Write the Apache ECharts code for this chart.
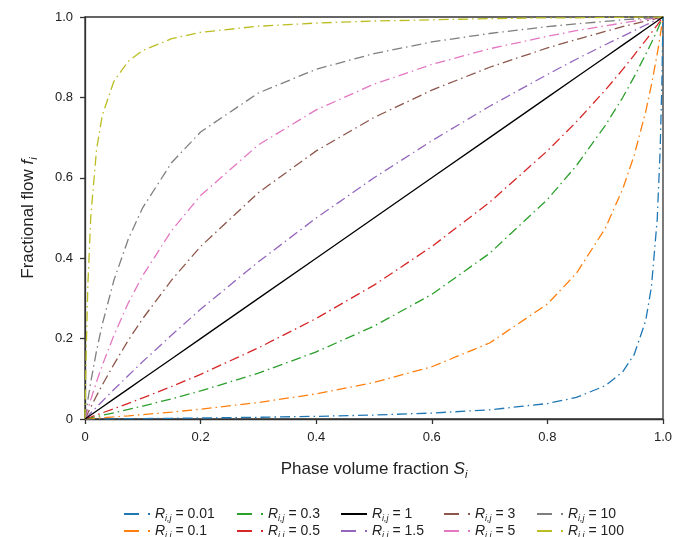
<!DOCTYPE html>
<html>
<head>
<meta charset="utf-8">
<script src="https://cdn.jsdelivr.net/npm/echarts@6/dist/echarts.min.js"></script>
<style>
  html, body { margin: 0; padding: 0; background: #fff; }
  #main { width: 686px; height: 537px; }
</style>
</head>
<body>
<div id="main"></div>
<script>
// phase volume fraction S (x)
var sValues = [0, 0.002, 0.005, 0.01, 0.02, 0.03, 0.05, 0.075, 0.1, 0.15, 0.2, 0.3, 0.4, 0.5,
    0.6, 0.7, 0.8, 0.85, 0.9, 0.93, 0.95, 0.97, 0.98, 0.99, 0.995, 0.998, 1];

// fractional flow f
var f001 = [0, 0.00002, 0.00005, 0.0001, 0.0002, 0.0003, 0.0005, 0.0008, 0.0011, 0.0018, 0.0025, 0.0043, 0.0066, 0.0099,
    0.0148, 0.0228, 0.0385, 0.0536, 0.0826, 0.117, 0.160, 0.244, 0.329, 0.497, 0.666, 0.833, 1];
var f01 = [0, 0.0002, 0.0005, 0.001, 0.002, 0.0031, 0.0052, 0.008, 0.011, 0.0173, 0.0244, 0.0411, 0.0625, 0.0909,
    0.130, 0.189, 0.286, 0.362, 0.474, 0.571, 0.655, 0.764, 0.831, 0.908, 0.952, 0.980, 1];
var f03 = [0, 0.0006, 0.0015, 0.003, 0.0061, 0.0092, 0.0155, 0.0238, 0.0323, 0.0503, 0.0698, 0.114, 0.167, 0.231,
    0.310, 0.412, 0.546, 0.630, 0.730, 0.799, 0.851, 0.907, 0.936, 0.967, 0.984, 0.993, 1];
var f05 = [0, 0.001, 0.0025, 0.005, 0.0101, 0.0152, 0.0256, 0.039, 0.0526, 0.0811, 0.111, 0.177, 0.25, 0.333,
    0.429, 0.539, 0.667, 0.739, 0.818, 0.869, 0.905, 0.942, 0.961, 0.980, 0.990, 0.996, 1];
var f1 = [0, 0.002, 0.005, 0.01, 0.02, 0.03, 0.05, 0.075, 0.1, 0.15, 0.2, 0.3, 0.4, 0.5,
    0.6, 0.7, 0.8, 0.85, 0.9, 0.93, 0.95, 0.97, 0.98, 0.99, 0.995, 0.998, 1];
var f15 = [0, 0.003, 0.0075, 0.0149, 0.0297, 0.0443, 0.0732, 0.108, 0.143, 0.209, 0.273, 0.391, 0.5, 0.6,
    0.692, 0.778, 0.857, 0.895, 0.931, 0.952, 0.966, 0.980, 0.987, 0.993, 0.997, 0.999, 1];
var f3 = [0, 0.006, 0.0149, 0.0294, 0.0577, 0.0849, 0.136, 0.196, 0.25, 0.346, 0.429, 0.563, 0.667, 0.75,
    0.818, 0.875, 0.923, 0.944, 0.964, 0.976, 0.983, 0.990, 0.993, 0.997, 0.998, 0.999, 1];
var f5 = [0, 0.0099, 0.0245, 0.0481, 0.0926, 0.134, 0.208, 0.289, 0.357, 0.469, 0.556, 0.682, 0.769, 0.833,
    0.882, 0.921, 0.952, 0.966, 0.978, 0.985, 0.990, 0.994, 0.996, 0.998, 0.999, 1.0, 1];
var f10 = [0, 0.0196, 0.0478, 0.0917, 0.170, 0.236, 0.345, 0.448, 0.526, 0.638, 0.714, 0.811, 0.870, 0.909,
    0.938, 0.959, 0.976, 0.983, 0.989, 0.993, 0.995, 0.997, 0.998, 0.999, 0.9995, 1.0, 1];
var f100 = [0, 0.167, 0.334, 0.503, 0.671, 0.756, 0.840, 0.890, 0.917, 0.946, 0.962, 0.977, 0.985, 0.990,
    0.993, 0.996, 0.998, 0.998, 0.999, 0.999, 0.9995, 0.9997, 0.9998, 0.9999, 1.0, 1.0, 1];

var ratioLabels = ['0.01', '0.1', '0.3', '0.5', '1', '1.5', '3', '5', '10', '100'];
var curves = [f001, f01, f03, f05, f1, f15, f3, f5, f10, f100];
var colors = ['#1f77b4', '#ff7f0e', '#2ca02c', '#d62728', '#000000',
    '#9467bd', '#8c564b', '#e377c2', '#7f7f7f', '#bcbd22'];

var series = [];
for (var k = 0; k < curves.length; k++) {
    var pts = [];
    for (var j = 0; j < sValues.length; j++) pts.push([sValues[j], curves[k][j]]);
    series.push({
        name: ratioLabels[k],
        type: 'line',
        data: pts,
        showSymbol: false,
        symbol: 'none',
        smooth: false,
        z: ratioLabels[k] === '1' ? 3 : 2,
        lineStyle: {
            color: colors[k],
            width: 1.3,
            type: ratioLabels[k] === '1' ? 'solid' : [10, 4, 1.5, 4]
        },
        itemStyle: { color: colors[k] }
    });
}

var richLegend = {
    r: { fontStyle: 'italic', fontSize: 14, fontFamily: 'Liberation Sans', color: '#222' },
    s: { fontStyle: 'italic', fontSize: 9, fontFamily: 'Liberation Sans', color: '#222', padding: [8, 0, 0, 0] },
    v: { fontSize: 14, fontFamily: 'Liberation Sans', color: '#222' }
};

// legend laid out in 5 columns x 2 rows, column-major
var colLeft = [124, 237, 341, 444, 537];
var rowTop = [507, 524];
var dashIcon = 'path://M0,0h15v2h-15z M24,0h2v2h-2z';
var solidIcon = 'path://M0,0h26v2h-26z';
var legends = [];
for (var i = 0; i < ratioLabels.length; i++) {
    legends.push({
        left: colLeft[Math.floor(i / 2)],
        top: rowTop[i % 2],
        padding: 0,
        itemWidth: 26,
        itemHeight: 2,
        data: [{ name: ratioLabels[i], icon: ratioLabels[i] === '1' ? solidIcon : dashIcon }],
        formatter: function (name) {
            return '{r|R}{s|i,j}{v| = ' + name + '}';
        },
        textStyle: { rich: richLegend }
    });
}

var nameRich = {
    t: { fontSize: 17, fontFamily: 'Liberation Sans', color: '#222' },
    it: { fontSize: 17, fontStyle: 'italic', fontFamily: 'Liberation Sans', color: '#222' },
    sub: { fontSize: 11, fontStyle: 'italic', fontFamily: 'Liberation Sans', color: '#222', padding: [10, 0, 0, 0] }
};

var chart = echarts.init(document.getElementById('main'));
chart.setOption({
    animation: false,
    backgroundColor: '#fff',
    color: colors,
    grid: {
        left: 85, right: 23, top: 17, bottom: 118,
        show: true, borderColor: '#333', borderWidth: 1.3, backgroundColor: 'transparent'
    },
    legend: legends,
    xAxis: {
        type: 'value',
        min: 0, max: 1, interval: 0.2,
        name: '{t|Phase volume fraction }{it|S}{sub|i}',
        nameLocation: 'middle',
        nameGap: 40,
        nameTextStyle: { rich: nameRich },
        splitLine: { show: false },
        axisLine: { show: true, lineStyle: { color: '#333', width: 1.3 } },
        axisTick: { show: true, inside: false, length: 5, lineStyle: { color: '#333', width: 1.3 } },
        axisLabel: {
            margin: 12, fontSize: 13, fontFamily: 'Liberation Sans', color: '#222',
            formatter: function (v) { return v === 0 ? '0' : v.toFixed(1); }
        }
    },
    yAxis: {
        type: 'value',
        min: 0, max: 1, interval: 0.2,
        name: '{t|Fractional flow }{it|f}{sub|i}',
        nameLocation: 'middle',
        nameGap: 46,
        nameRotate: 90,
        nameTextStyle: { rich: nameRich },
        splitLine: { show: false },
        axisLine: { show: true, lineStyle: { color: '#333', width: 1.3 } },
        axisTick: { show: true, inside: false, length: 5, lineStyle: { color: '#333', width: 1.3 } },
        axisLabel: {
            margin: 12, fontSize: 13, fontFamily: 'Liberation Sans', color: '#222',
            formatter: function (v) { return v === 0 ? '0' : v.toFixed(1); }
        }
    },
    series: series
});
</script>
</body>
</html>
